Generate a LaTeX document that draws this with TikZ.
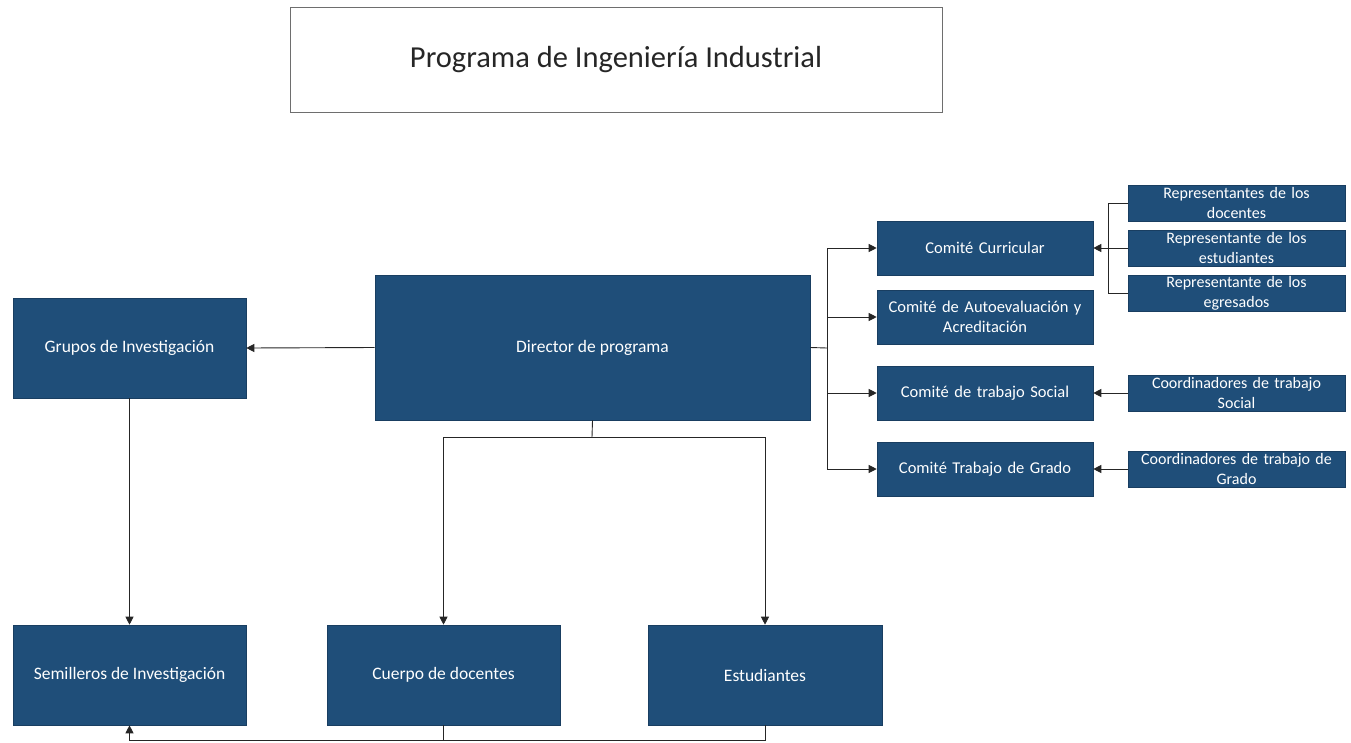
\documentclass[tikz,border=0pt]{standalone}
\usepackage{fontspec}
\setmainfont{Carlito}
\usetikzlibrary{arrows.meta}
\definecolor{boxblue}{HTML}{1F4E79}
\definecolor{framegray}{HTML}{6E6E6E}
\begin{document}
\begin{tikzpicture}[x=1pt,y=-1pt,
  bluebox/.style={draw=boxblue!80!black,line width=0.6pt,fill=boxblue,text=white,inner sep=1pt,align=center},
  bigbox/.style={bluebox,minimum width=233pt,minimum height=100pt,font=\fontsize{17.5}{21}\selectfont},
  combox/.style={bluebox,minimum width=216pt,minimum height=54pt,text width=210pt,font=\fontsize{16.5}{20}\selectfont},
  repbox/.style={bluebox,minimum width=217pt,minimum height=36pt,text width=214pt,font=\fontsize{16}{20}\selectfont},
  conn/.style={draw=black!85,line width=0.9pt},
  arr/.style={conn,-{Triangle[length=8pt,width=8pt]}}]
\useasboundingbox (0,0) rectangle (1351,742);
\node[draw=framegray,line width=0.9pt,minimum width=652pt,minimum height=105pt,font=\fontsize{30.5}{36}\selectfont,text=black!85] (title) at (616,59.5) {Programa de Ingeniería Industrial};
\node[bigbox] (grupos) at (129.5,348) {Grupos de Investigación};
\node[bigbox,minimum width=435pt,minimum height=145pt] (director) at (592.5,347.5) {Director de programa};
\node[bigbox] (semilleros) at (129.5,675) {Semilleros de Investigación};
\node[bigbox] (cuerpo) at (443.5,675) {Cuerpo de docentes};
\node[bigbox,minimum width=234pt] (estudiantes) at (765,675) {Estudiantes};
\node[combox] (cc) at (985,248) {Comité Curricular};
\node[combox] (caa) at (985,317) {Comité de Autoevaluación y\\Acreditación};
\node[combox] (cts) at (985,393) {Comité de trabajo Social};
\node[combox] (ctg) at (985,469) {Comité Trabajo de Grado};
\node[repbox] (rep1) at (1236.5,203) {Representantes de los\\docentes};
\node[repbox] (rep2) at (1236.5,248) {Representante de los\\estudiantes};
\node[repbox] (rep3) at (1236.5,293) {Representante de los\\egresados};
\node[repbox] (cos) at (1236.5,393) {Coordinadores de trabajo\\Social};
\node[repbox] (cog) at (1236.5,469) {Coordinadores de trabajo de\\Grado};
% connectors
\coordinate (busR) at (827,348);
\coordinate (busC) at (1108,248);
\coordinate (dj) at (592,437);
\coordinate (bot) at (0,740);
\draw[arr] (director.west) -- (grupos.east);
\draw[conn] (director.east) -- (busR);
\draw[conn] (busR |- cc.west) -- (busR |- ctg.west);
\draw[arr] (busR |- cc.west) -- (cc.west);
\draw[arr] (busR |- caa.west) -- (caa.west);
\draw[arr] (busR |- cts.west) -- (cts.west);
\draw[arr] (busR |- ctg.west) -- (ctg.west);
\draw[conn] (rep1.west) -| (busC |- rep3.west) -- (rep3.west);
\draw[arr] (rep2.west) -- (cc.east);
\draw[arr] (cos.west) -- (cts.east);
\draw[arr] (cog.west) -- (ctg.east);
\draw[conn] (director.south) -- (dj);
\draw[arr] (dj) -| (cuerpo.north);
\draw[arr] (dj) -| (estudiantes.north);
\draw[arr] (grupos.south) -- (semilleros.north);
\draw[conn] (cuerpo.south) -- (cuerpo.south |- bot);
\draw[arr] (estudiantes.south) |- (semilleros.south |- bot) -- (semilleros.south);
\end{tikzpicture}
\end{document}
